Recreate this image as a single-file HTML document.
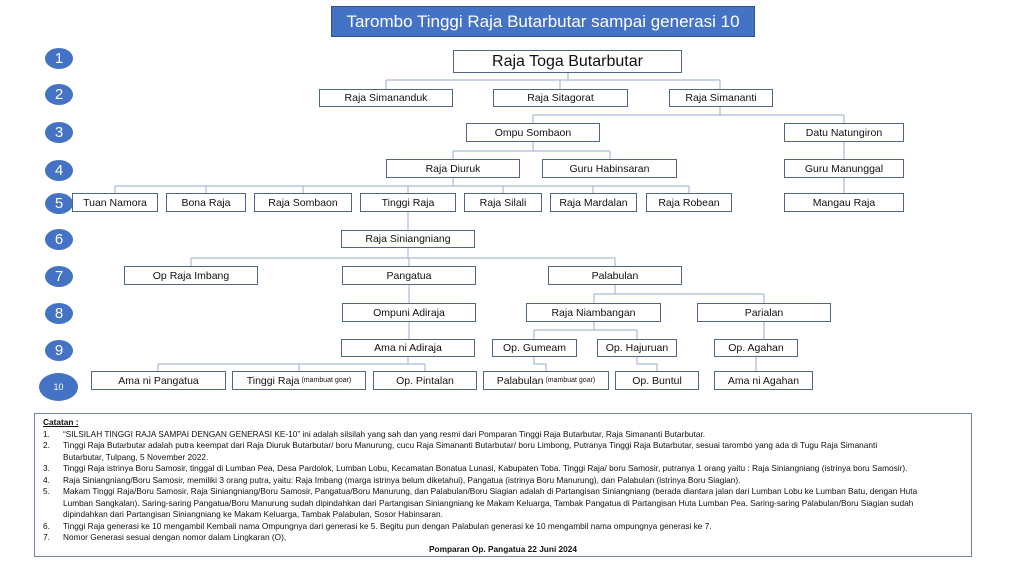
<!DOCTYPE html>
<html><head><meta charset="utf-8"><style>
body{margin:0;width:1024px;height:563px;background:#fff;position:relative;overflow:hidden;font-family:"Liberation Sans",sans-serif}
.b{position:absolute;box-sizing:border-box;border:1.3px solid #4f6784;background:#fff;font-size:10.5px;color:#111;display:flex;align-items:center;justify-content:center;white-space:nowrap}
.b small{font-size:7px;margin-left:2px}
.c{position:absolute;width:28px;height:21px;border-radius:50%;background:#4472c4;color:#fff;font-size:15px;display:flex;align-items:center;justify-content:center;left:45px}
svg{position:absolute;left:0;top:0}
.n{position:absolute;left:34px;top:413px;width:938px;height:144px;box-sizing:border-box;border:1.3px solid #6f86a6;font-size:8.3px;color:#111;line-height:11.5px;padding:3px 0 0 8px}
.n div{white-space:nowrap}
.n .i{display:inline-block;width:20px}
.n .k{padding-left:20px}
</style></head><body>
<div style="position:absolute;left:331px;top:6px;width:424px;height:31px;background:#4472c4;border:1px solid #2f528f;box-sizing:border-box;color:#fff;font-size:17px;display:flex;align-items:center;justify-content:center">Tarombo Tinggi Raja Butarbutar sampai generasi 10</div>
<div class="c" style="top:48px">1</div>
<div class="c" style="top:84px">2</div>
<div class="c" style="top:122px">3</div>
<div class="c" style="top:160px">4</div>
<div class="c" style="top:193px">5</div>
<div class="c" style="top:229px">6</div>
<div class="c" style="top:266px">7</div>
<div class="c" style="top:303px">8</div>
<div class="c" style="top:340px">9</div>
<div class="c" style="top:373px;left:39px;width:39px;height:28px;font-size:9px">10</div>
<svg width="1024" height="563"><g stroke="#a9bcd6" stroke-width="1.2" fill="none">
<path d="M568 72V80M386 80H720M386 80V89M560 80V89M720 80V89"/>
<path d="M720 107V115M533 115H844M533 115V123M844 115V123"/>
<path d="M533 142V151M453 151H610M453 151V159M610 151V159"/>
<path d="M844 142V159M844 178V193"/>
<path d="M453 178V186M115 186H689M115 186V193M206 186V193M303 186V193M408 186V193M503 186V193M593 186V193M689 186V193"/>
<path d="M408 212V230"/>
<path d="M408 248V258M191 258H615M191 258V266M409 258V266M615 258V266"/>
<path d="M409 285V303M409 322V339"/>
<path d="M615 285V294M594 294H764M594 294V303M764 294V303"/>
<path d="M594 322V330M534 330H637M534 330V339M637 330V339"/>
<path d="M764 322V339M756 357V371"/>
<path d="M408 357V364M158 364H425M158 364V371M299 364V371M425 364V371"/>
<path d="M534 357V364H546V371M637 357V364H657V371"/>
</g></svg>
<div class="b" style="left:453px;top:50px;width:229px;height:23px;font-size:16px">Raja Toga Butarbutar</div>
<div class="b" style="left:319px;top:89px;width:134px;height:18px">Raja Simananduk</div>
<div class="b" style="left:493px;top:89px;width:135px;height:18px">Raja Sitagorat</div>
<div class="b" style="left:669px;top:89px;width:104px;height:18px">Raja Simananti</div>
<div class="b" style="left:466px;top:123px;width:134px;height:19px">Ompu Sombaon</div>
<div class="b" style="left:784px;top:123px;width:120px;height:19px">Datu Natungiron</div>
<div class="b" style="left:386px;top:159px;width:134px;height:19px">Raja Diuruk</div>
<div class="b" style="left:542px;top:159px;width:135px;height:19px">Guru Habinsaran</div>
<div class="b" style="left:784px;top:159px;width:120px;height:19px">Guru Manunggal</div>
<div class="b" style="left:72px;top:193px;width:86px;height:19px">Tuan Namora</div>
<div class="b" style="left:166px;top:193px;width:80px;height:19px">Bona Raja</div>
<div class="b" style="left:254px;top:193px;width:98px;height:19px">Raja Sombaon</div>
<div class="b" style="left:360px;top:193px;width:96px;height:19px">Tinggi Raja</div>
<div class="b" style="left:464px;top:193px;width:78px;height:19px">Raja Silali</div>
<div class="b" style="left:550px;top:193px;width:87px;height:19px">Raja Mardalan</div>
<div class="b" style="left:646px;top:193px;width:86px;height:19px">Raja Robean</div>
<div class="b" style="left:784px;top:193px;width:120px;height:19px">Mangau Raja</div>
<div class="b" style="left:341px;top:230px;width:134px;height:18px">Raja Siniangniang</div>
<div class="b" style="left:124px;top:266px;width:134px;height:19px">Op Raja Imbang</div>
<div class="b" style="left:342px;top:266px;width:134px;height:19px">Pangatua</div>
<div class="b" style="left:548px;top:266px;width:134px;height:19px">Palabulan</div>
<div class="b" style="left:342px;top:303px;width:134px;height:19px">Ompuni Adiraja</div>
<div class="b" style="left:526px;top:303px;width:135px;height:19px">Raja Niambangan</div>
<div class="b" style="left:697px;top:303px;width:134px;height:19px">Parialan</div>
<div class="b" style="left:341px;top:339px;width:134px;height:18px">Ama ni Adiraja</div>
<div class="b" style="left:492px;top:339px;width:85px;height:18px">Op. Gumeam</div>
<div class="b" style="left:597px;top:339px;width:80px;height:18px">Op. Hajuruan</div>
<div class="b" style="left:714px;top:339px;width:84px;height:18px">Op. Agahan</div>
<div class="b" style="left:91px;top:371px;width:135px;height:19px">Ama ni Pangatua</div>
<div class="b" style="left:232px;top:371px;width:134px;height:19px">Tinggi Raja<small>(mambuat goar)</small></div>
<div class="b" style="left:373px;top:371px;width:104px;height:19px">Op. Pintalan</div>
<div class="b" style="left:483px;top:371px;width:126px;height:19px">Palabulan<small>(mambuat goar)</small></div>
<div class="b" style="left:615px;top:371px;width:84px;height:19px">Op. Buntul</div>
<div class="b" style="left:714px;top:371px;width:99px;height:19px">Ama ni Agahan</div>
<div class="n">
<div><b><u>Catatan :</u></b></div>
<div><span class="i">1.</span>“SILSILAH TINGGI RAJA SAMPAI DENGAN GENERASI KE-10” ini adalah silsilah yang sah dan yang resmi dari Pomparan Tinggi Raja Butarbutar, Raja Simananti Butarbutar.</div>
<div><span class="i">2.</span>Tinggi Raja Butarbutar adalah putra keempat dari Raja Diuruk Butarbutar/ boru Manurung, cucu Raja Simananti Butarbutar/ boru Limbong, Putranya Tinggi Raja Butarbutar, sesuai tarombo yang ada di Tugu Raja Simananti</div>
<div class="k">Butarbutar, Tulpang, 5 November 2022.</div>
<div><span class="i">3.</span>Tinggi Raja istrinya Boru Samosir, tinggal di Lumban Pea, Desa Pardolok, Lumban Lobu, Kecamatan Bonatua Lunasi, Kabupaten Toba. Tinggi Raja/ boru Samosir, putranya 1 orang yaitu : Raja Siniangniang (istrinya boru Samosir).</div>
<div><span class="i">4.</span>Raja Siniangniang/Boru Samosir, memiliki 3 orang putra, yaitu: Raja Imbang (marga istrinya belum diketahui), Pangatua (istrinya Boru Manurung), dan Palabulan (istrinya Boru Siagian).</div>
<div><span class="i">5.</span>Makam Tinggi Raja/Boru Samosir, Raja Siniangniang/Boru Samosir, Pangatua/Boru Manurung, dan Palabulan/Boru Siagian adalah di Partangisan Siniangniang (berada diantara jalan dari Lumban Lobu ke Lumban Batu, dengan Huta</div>
<div class="k">Lumban Sangkalan). Saring-saring Pangatua/Boru Manurung sudah dipindahkan dari Partangisan Siniangniang ke Makam Keluarga, Tambak Pangatua di Partangisan Huta Lumban Pea. Saring-saring Palabulan/Boru Siagian sudah</div>
<div class="k">dipindahkan dari Partangisan Siniangniang ke Makam Keluarga, Tambak Palabulan, Sosor Habinsaran.</div>
<div><span class="i">6.</span>Tinggi Raja generasi ke 10 mengambil Kembali nama Ompungnya dari generasi ke 5. Begitu pun dengan Palabulan generasi ke 10 mengambil nama ompungnya generasi ke 7.</div>
<div><span class="i">7.</span>Nomor Generasi sesuai dengan nomor dalam Lingkaran (O),</div>
<div style="padding-left:386px"><b>Pomparan Op. Pangatua 22 Juni 2024</b></div>
</div>
</body></html>
